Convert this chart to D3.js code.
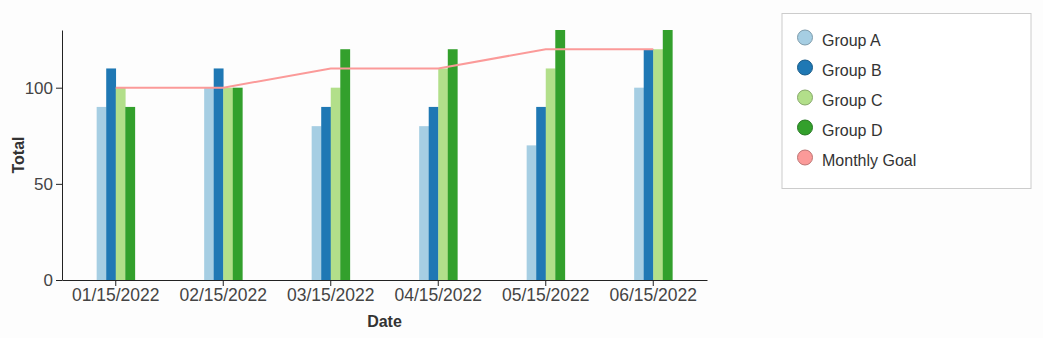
<!DOCTYPE html>
<html><head><meta charset="utf-8">
<script src="https://cdn.jsdelivr.net/npm/d3@7"></script>
<style>
html,body{margin:0;padding:0;background:#fdfdfd;}
svg{display:block;font-family:"Liberation Sans",Arial,sans-serif;}
</style></head>
<body><svg id="c" width="1043" height="338"></svg>
<script>
const dates = ["01/15/2022","02/15/2022","03/15/2022","04/15/2022","05/15/2022","06/15/2022"];
const groups = ["Group A","Group B","Group C","Group D"];
const groupA = [90,100,80,80,70,100];
const groupB = [110,110,90,90,90,120];
const groupC = [100,100,100,110,110,120];
const groupD = [90,100,120,120,130,130];
const monthlyGoal = [100,100,110,110,120,120];
const colors = ["#a6cee3","#1f78b4","#b2df8a","#33a02c"];
const goalColor = "#fb9a99";
const yTicks = [0,50,100];

const series = [groupA, groupB, groupC, groupD];
const svg = d3.select("#c");
const m = {l:62, r:707, t:30, b:280};

const x = d3.scaleBand().domain(dates).range([m.l, m.r]).paddingInner(0.645).paddingOuter(0.3225);
const xs = d3.scaleBand().domain(groups).range([0, x.bandwidth()]);
const y = d3.scaleLinear().domain([0,130]).range([m.b, m.t]);

const g = svg.append("g");
dates.forEach((d,i)=>{
  const gg = g.append("g").attr("transform",`translate(${x(d)},0)`);
  groups.forEach((k,j)=>{
    gg.append("rect").attr("x", xs(k)).attr("width", xs.bandwidth()+0.3)
      .attr("y", y(series[j][i])).attr("height", y(0)-y(series[j][i]))
      .attr("fill", colors[j]);
  });
});

const line = d3.line().x((v,i)=>x(dates[i])+x.bandwidth()/2).y(v=>y(v));
svg.append("path").datum(monthlyGoal).attr("d", line).attr("fill","none")
  .attr("stroke", goalColor).attr("stroke-width", 2);

const xa = svg.append("g").attr("transform",`translate(0,${m.b})`).call(d3.axisBottom(x).tickSizeOuter(0));
const ya = svg.append("g").attr("transform",`translate(${m.l},0)`).call(d3.axisLeft(y).tickValues(yTicks).tickSizeOuter(0));
[xa,ya].forEach(a=>{
  a.selectAll("path,line").attr("stroke","#222");
  a.selectAll("text").attr("fill","#444").style("font-size","17px");
});
xa.selectAll("text").style("font-size","17.5px");

svg.append("text").attr("x",(m.l+m.r)/2).attr("y",327).attr("text-anchor","middle")
  .style("font-weight","bold").style("font-size","16px").attr("fill","#333").text("Date");
svg.append("text").attr("transform",`translate(24,${(m.t+m.b)/2}) rotate(-90)`).attr("text-anchor","middle")
  .style("font-weight","bold").style("font-size","16px").attr("fill","#333").text("Total");

const lg = svg.append("g");
lg.append("rect").attr("x",782).attr("y",13.5).attr("width",249).attr("height",175)
  .attr("fill","#fff").attr("stroke","#ccc");
const items = groups.concat(["Monthly Goal"]);
const lcol = colors.concat([goalColor]);
items.forEach((t,i)=>{
  lg.append("circle").attr("cx",805).attr("cy",37.5+30*i).attr("r",7.5)
    .attr("fill",lcol[i]).attr("stroke",d3.color(lcol[i]).darker(0.8)).attr("stroke-width",1);
  lg.append("text").attr("x",822).attr("y",45.5+30*i).style("font-size","16px").attr("fill","#333").text(t);
});
</script></body></html>
